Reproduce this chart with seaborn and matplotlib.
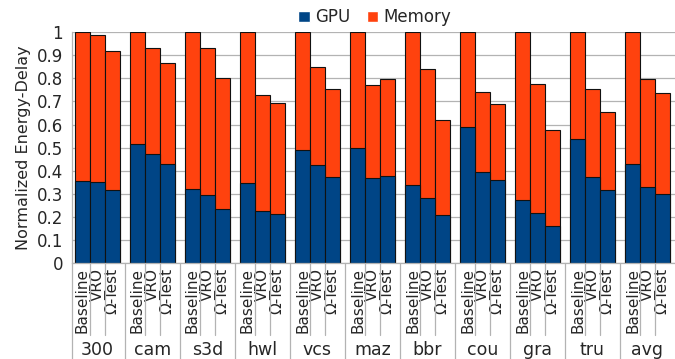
"""Stacked bar chart of normalized energy-delay (GPU + Memory)."""

import matplotlib
matplotlib.use("Agg")
import matplotlib.pyplot as plt
import matplotlib.transforms as mtransforms
from matplotlib.patches import Patch
import numpy as np
import pandas as pd
import seaborn as sns

# data
benchmarks = ["300", "cam", "s3d", "hwl", "vcs", "maz", "bbr", "cou", "gra", "tru", "avg"]
configs = ["Baseline", "VRO", "Ω-Test"]
# total (GPU + Memory) per benchmark, order Baseline / VRO / Ω-Test
total = [
    [1.0, 0.987, 0.917],
    [1.0, 0.933, 0.865],
    [1.0, 0.932, 0.800],
    [1.0, 0.729, 0.694],
    [1.0, 0.851, 0.755],
    [1.0, 0.770, 0.796],
    [1.0, 0.839, 0.619],
    [1.0, 0.739, 0.690],
    [1.0, 0.774, 0.575],
    [1.0, 0.754, 0.655],
    [1.0, 0.797, 0.735],
]
gpu = [
    [0.353, 0.352, 0.317],
    [0.516, 0.470, 0.430],
    [0.318, 0.292, 0.234],
    [0.347, 0.226, 0.211],
    [0.490, 0.425, 0.371],
    [0.496, 0.368, 0.376],
    [0.337, 0.282, 0.206],
    [0.589, 0.392, 0.359],
    [0.273, 0.214, 0.159],
    [0.537, 0.371, 0.314],
    [0.427, 0.329, 0.297],
]

GPU_COLOR = "#004586"
MEM_COLOR = "#ff420e"
GRID_COLOR = "#b3b3b3"
PERIOD = 3.7  # group spacing in bar widths


def build_frame():
    """Long table with one row per bar and its x position."""
    rows = []
    for i, bench in enumerate(benchmarks):
        for j, cfg in enumerate(configs):
            rows.append({"bench": bench, "config": cfg,
                         "pos": i * PERIOD + j,
                         "total": total[i][j], "gpu": gpu[i][j]})
    return pd.DataFrame(rows)


def main():
    df = build_frame()
    sns.set_style("white")
    plt.rcParams["font.family"] = ["DejaVu Sans"]
    plt.rcParams["font.size"] = 11

    fig = plt.figure(figsize=(6.75, 3.59), dpi=100)
    ax = fig.add_axes([0.1067, 0.268, 0.8933, 0.642])

    kw = dict(native_scale=True, width=1.0, edgecolor="#111111",
              linewidth=0.8, ax=ax, errorbar=None)
    sns.barplot(data=df, x="pos", y="total", color=MEM_COLOR, saturation=1, **kw)
    sns.barplot(data=df, x="pos", y="gpu", color=GPU_COLOR, saturation=1, **kw)

    ax.set_ylim(0, 1)
    ax.set_xlim(-0.7, df["pos"].max() + 0.85)
    ax.set_yticks(np.arange(0, 1.01, 0.1))
    ax.set_yticklabels(["0"] + [f"{v:.1f}" for v in np.arange(0.1, 0.95, 0.1)] + ["1"])
    ax.yaxis.grid(True, color=GRID_COLOR, linewidth=0.9)
    ax.set_axisbelow(True)
    ax.tick_params(axis="y", length=5, color=GRID_COLOR, pad=1.5, labelsize=12)

    ax.set_xticks(df["pos"])
    ax.set_xticklabels(df["config"], rotation=90, fontsize=11)
    ax.tick_params(axis="x", length=0, pad=4)
    ax.set_xlabel("")
    ax.set_ylabel("Normalized Energy-Delay", fontsize=11.5, labelpad=4)

    for side in ["top", "right"]:
        ax.spines[side].set_visible(False)
    for side in ["left", "bottom"]:
        ax.spines[side].set_color(GRID_COLOR)
        ax.spines[side].set_linewidth(0.9)

    # separators and group labels below the axis
    trans = mtransforms.blended_transform_factory(ax.transData, ax.transAxes)
    ax_h = 0.642 * 3.59 * 100  # axes height in px
    low_bar = -(335 - 263) / ax_h
    low_grp = -(359 - 263) / ax_h
    for i, bench in enumerate(benchmarks):
        start = i * PERIOD
        for j in (1, 2):
            x = start + j - 0.5
            ax.plot([x, x], [0, low_bar], color=GRID_COLOR, lw=0.9,
                    transform=trans, clip_on=False)
        left = -0.7 if i == 0 else start - 0.5 - (PERIOD - 3) / 2
        ax.plot([left, left], [0, low_grp], color=GRID_COLOR, lw=0.9,
                transform=trans, clip_on=False)
        ax.text(start + 1, -(350 - 263) / ax_h, bench, transform=trans,
                ha="center", va="center", fontsize=12.5)

    handles = [Patch(facecolor=GPU_COLOR, label="GPU"),
               Patch(facecolor=MEM_COLOR, label="Memory")]
    fig.legend(handles=handles, loc="center", bbox_to_anchor=(0.555, 0.952),
               ncol=2, frameon=False, handlelength=0.7, handleheight=0.7,
               handletextpad=0.3, columnspacing=1.0, fontsize=12)

    fig.savefig("out.png", dpi=100)


if __name__ == "__main__":
    main()
